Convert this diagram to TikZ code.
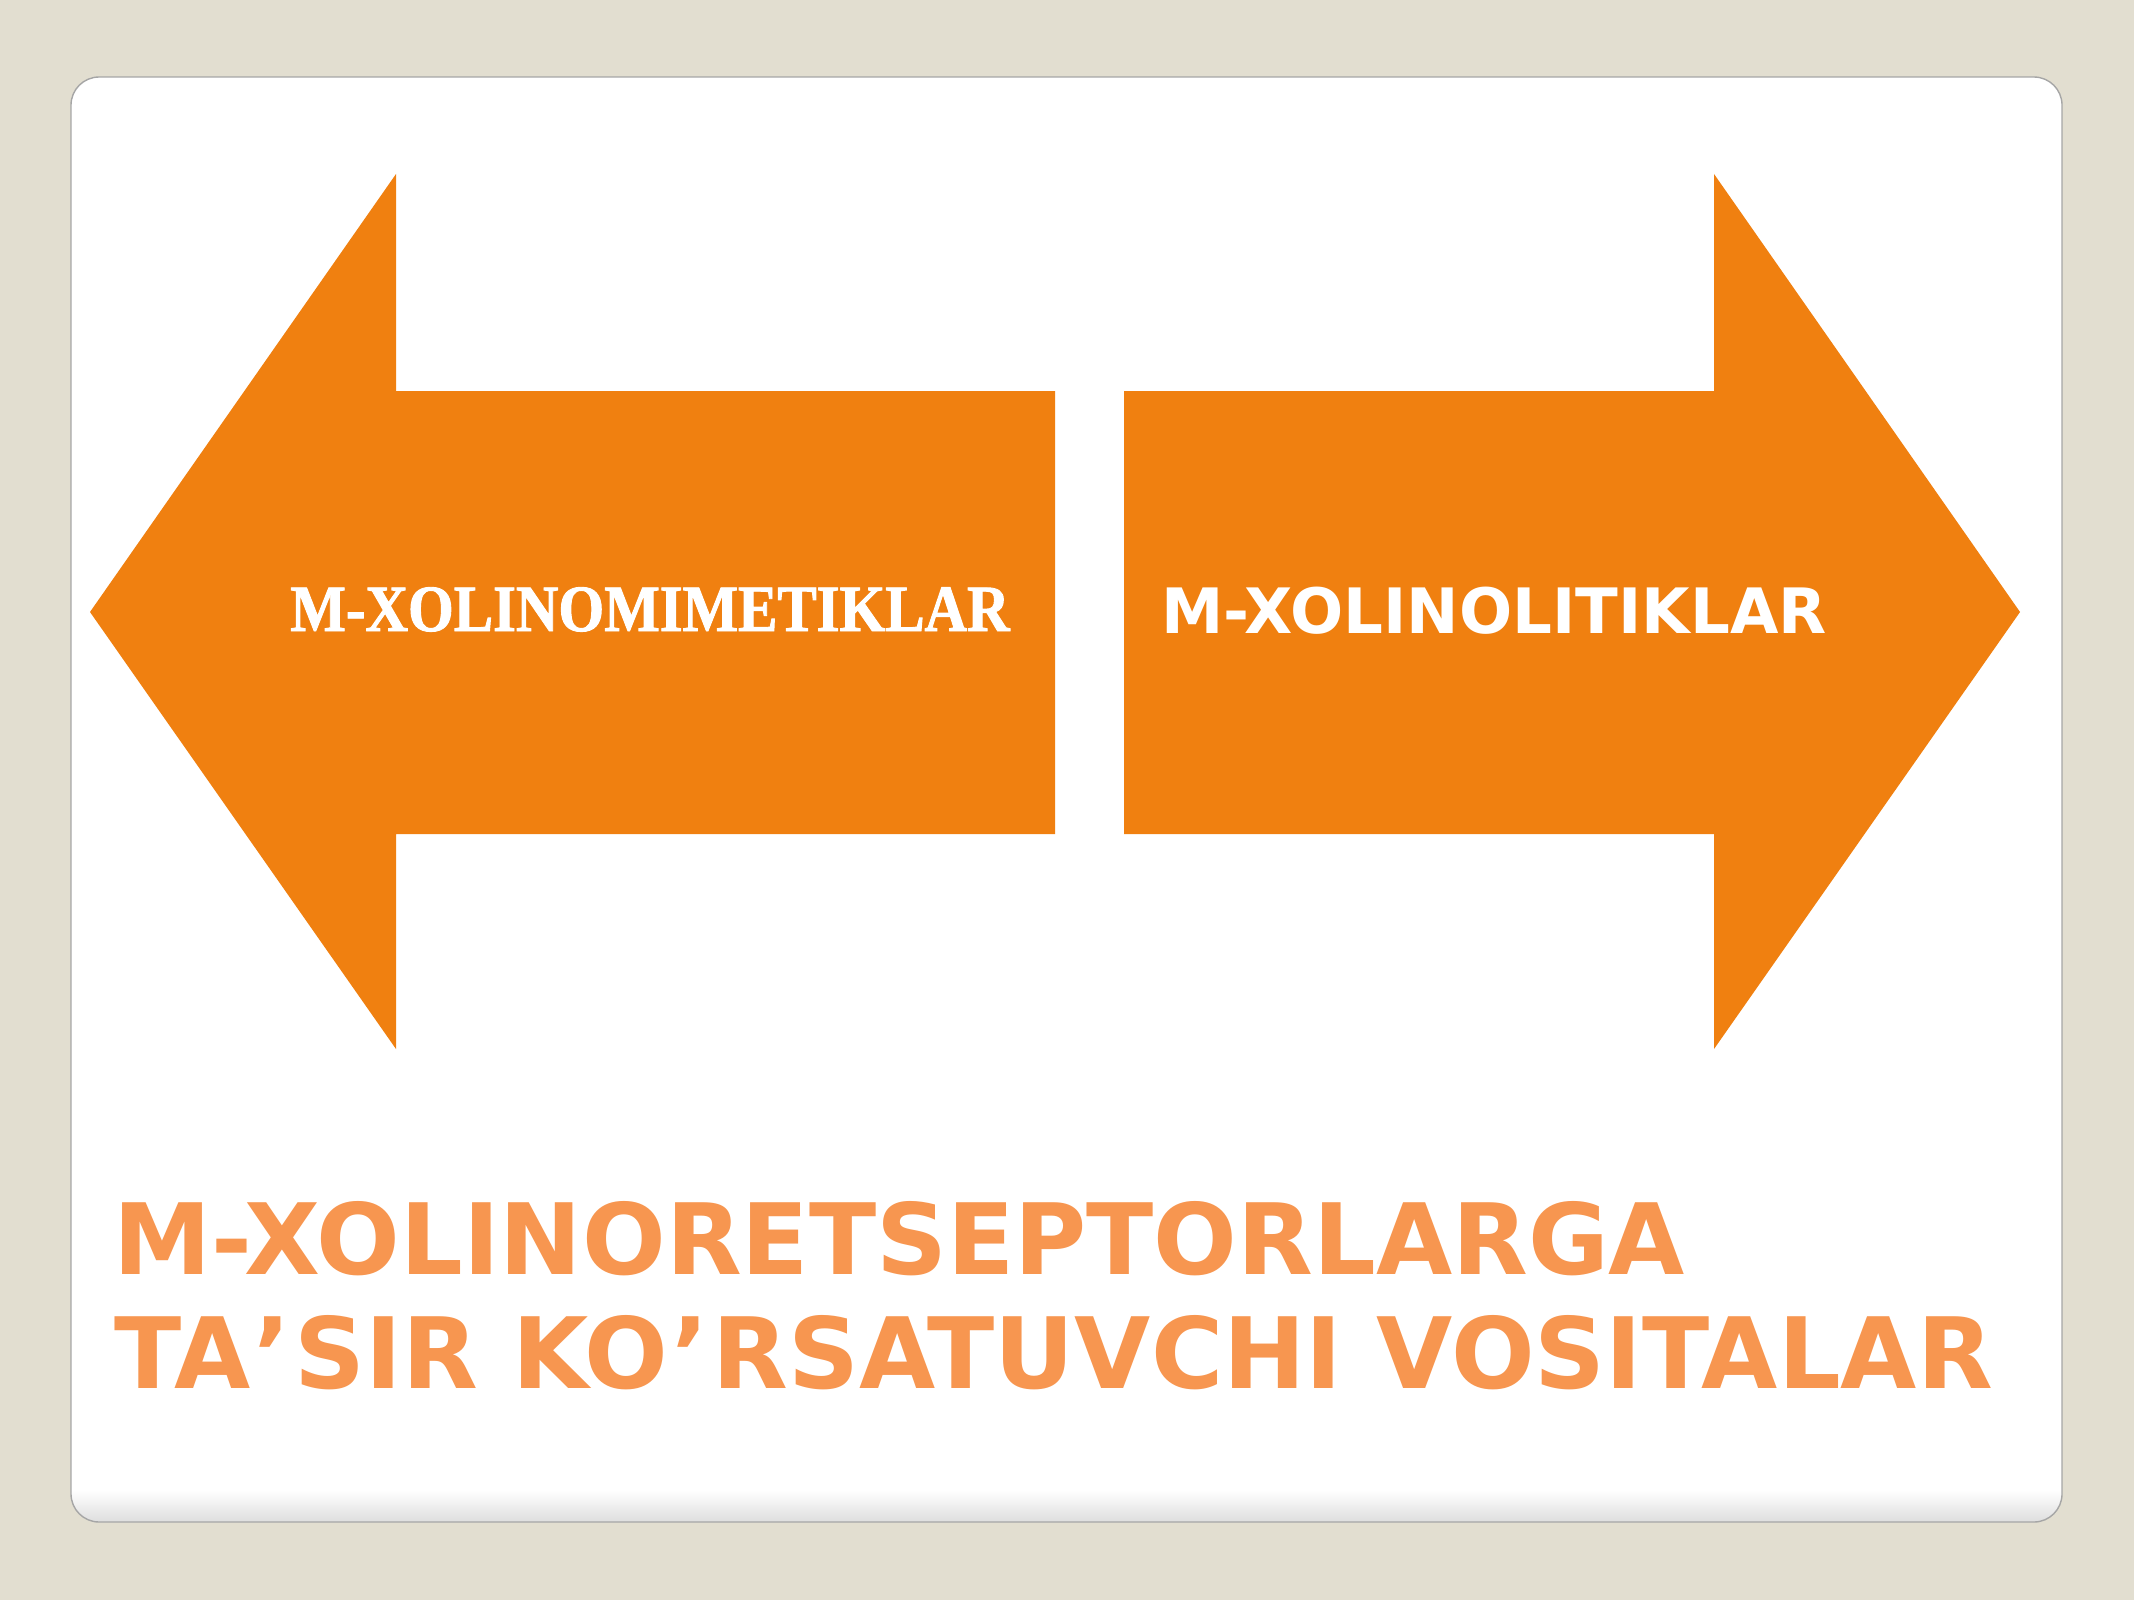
\documentclass[tikz,border=0pt]{standalone}
\usepackage{fontspec}
\newfontfamily\serifbold{LiberationSerif-Bold.ttf}[FakeStretch=0.89,FakeBold=1.4]
\newfontfamily\sansbold{DejaVu Sans Bold}
\definecolor{slidebg}{HTML}{E2DED0}
\definecolor{arroworange}{HTML}{F08010}
\definecolor{titleorange}{HTML}{F79650}
\begin{document}
\begin{tikzpicture}[x=0.01cm,y=-0.01cm,
    arrowshape/.style={fill=arroworange,draw=none},
    arrowtext/.style={text=white,inner sep=0pt,anchor=base},
    titleline/.style={text=titleorange,inner sep=0pt,anchor=base west,
        font=\sansbold\fontsize{28pt}{32pt}\selectfont}]
    \fill[slidebg] (0,0) rectangle (2134,1600);
    \useasboundingbox (0,0) rectangle (2134,1600);
    % card
    \begin{scope}
        \clip[rounded corners=8pt] (71,77) rectangle (2062,1522);
        \fill[white] (71,77) rectangle (2062,1522);
        \shade[top color=white,bottom color=black!13] (71,1490) rectangle (2062,1522);
    \end{scope}
    \draw[black!35,line width=0.4pt,rounded corners=8pt] (71,77) rectangle (2062,1522);
    % left arrow
    \fill[arrowshape] (90,612) -- (396,174) -- (396,391) -- (1055,391)
        -- (1055,834) -- (396,834) -- (396,1049) -- cycle;
    % right arrow
    \fill[arrowshape] (2020,612) -- (1714,174) -- (1714,391) -- (1124,391)
        -- (1124,834) -- (1714,834) -- (1714,1049) -- cycle;
    \node[arrowtext,font=\serifbold\fontsize{18.8pt}{22pt}\selectfont] (mimetic) at (650,631) {M-XOLINOMIMETIKLAR};
    \node[arrowtext,font=\sansbold\fontsize{17.8pt}{20pt}\selectfont] (lytic) at (1494,633) {M-XOLINOLITIKLAR};
    % title
    \node[titleline] (title1) at (113,1274) {M-XOLINORETSEPTORLARGA};
    \node[titleline] (title2) at (114,1388) {TA\kern1pt’\kern1pt SIR KO\kern1pt’\kern1pt RSATUVCHI VOSITALAR};
\end{tikzpicture}
\end{document}
